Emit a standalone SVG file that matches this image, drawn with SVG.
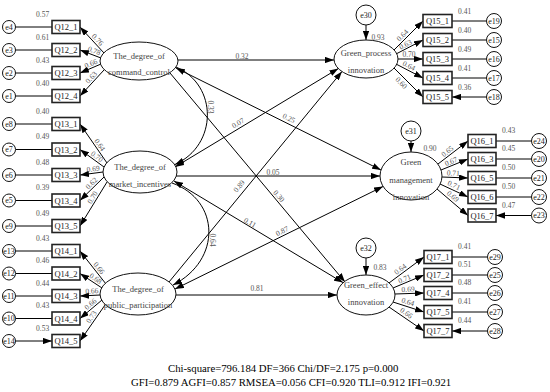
<svg xmlns="http://www.w3.org/2000/svg" width="550" height="392" viewBox="0 0 550 392">
<defs>
<style>
text{font-family:"Liberation Serif","Times New Roman",serif;fill:#333}
.lab{font-size:7.5px;fill:#555;text-anchor:middle}
.vl{font-size:7.5px;fill:#555}
.it{font-size:8.5px;text-anchor:middle;fill:#222}
.lt{font-size:8.5px;text-anchor:middle;fill:#444}
.et{font-size:8px;text-anchor:middle;fill:#222}
.box{fill:#fff;stroke:#222;stroke-width:1.6}
.ell{fill:#fff;stroke:#111;stroke-width:1}
.err{fill:#fff;stroke:#111;stroke-width:1}
.c{stroke:#000;stroke-width:1;fill:none}
.a{marker-end:url(#ah)}
.b{marker-start:url(#ah);marker-end:url(#ah)}
.fit{font-size:10.75px;fill:#000}
</style>
<marker id="ah" viewBox="0 0 10 7" refX="10" refY="3.5" markerWidth="9" markerHeight="6.3" markerUnits="userSpaceOnUse" orient="auto-start-reverse"><path d="M0,0 L10,3.5 L0,7 z" fill="#000"/></marker>
</defs>
<rect width="550" height="392" fill="#fff"/>

<g id="connectors">
<!-- error to items left -->
<path class="c a" d="M15.5,27H52M15.5,50H52M15.5,73H52M15.5,96H52M15.5,124H52M15.5,149.5H52M15.5,175H52M15.5,200.5H52M15.5,226H52M15.5,251H52M15.5,273.5H52M15.5,296H52M15.5,318.5H52M15.5,341H52"/>
<!-- loadings left -->
<path class="c a" d="M104,53L80,27"/>
<path class="c a" d="M101,58L80,50"/>
<path class="c a" d="M101,64L80,73"/>
<path class="c a" d="M104,70L80,96"/>
<path class="c a" d="M107,163L80,124"/>
<path class="c a" d="M104,167L80,149.5"/>
<path class="c a" d="M103,172L80,175"/>
<path class="c a" d="M104,177L80,200.5"/>
<path class="c a" d="M107,182L80,226"/>
<path class="c a" d="M106,284L80,251"/>
<path class="c a" d="M102,288L80,273.5"/>
<path class="c a" d="M100,295L80,296"/>
<path class="c a" d="M102,300L80,318.5"/>
<path class="c a" d="M105,305L80,341"/>
<!-- structural -->
<path class="c a" d="M178,60H334"/>
<path class="c b" d="M176,68L381,170"/>
<path class="c a" d="M170,73L345,282"/>
<path class="c a" d="M176,67C218,85 218,145 175,164.5"/>
<path class="c b" d="M175,167L338.4,68.5"/>
<path class="c a" d="M176,176H380"/>
<path class="c b" d="M174,181L343,282.6"/>
<path class="c a" d="M172,183C220,200 222,260 173,285"/>
<path class="c a" d="M169,282L342,71.5"/>
<path class="c b" d="M175,289L383,186.5"/>
<path class="c a" d="M176,295H337"/>
<!-- residuals of endogenous -->
<path class="c a" d="M366,25V40"/>
<path class="c a" d="M411,141V152"/>
<path class="c a" d="M366,258V275"/>
<!-- loadings right -->
<path class="c a" d="M394,50L423,21"/>
<path class="c a" d="M396,54L423,40"/>
<path class="c a" d="M398,59L423,59"/>
<path class="c a" d="M396,64L423,78"/>
<path class="c a" d="M394,68L423,97"/>
<path class="c a" d="M438,164L468,141"/>
<path class="c a" d="M441,170L468,159"/>
<path class="c a" d="M442,177L468,178"/>
<path class="c a" d="M440,184L468,197"/>
<path class="c a" d="M437,189L468,215.5"/>
<path class="c a" d="M389,283L424,257"/>
<path class="c a" d="M393,288L424,275"/>
<path class="c a" d="M395,294L424,293"/>
<path class="c a" d="M393,302L424,312"/>
<path class="c a" d="M389,307L424,331"/>
<!-- errors to items right -->
<path class="c a" d="M486.5,21H452M486.5,40H452M486.5,59H452M486.5,78H452M486.5,97H452"/>
<path class="c a" d="M531.5,141H496M531.5,159H496M531.5,178H496M531.5,197H496M531.5,215.5H496"/>
<path class="c a" d="M487.5,257H452M487.5,275H452M487.5,293H452M487.5,312H452M487.5,331H452"/>
</g>

<!-- latent nodes -->
<g id="command_control"><ellipse class="ell" cx="139" cy="61" rx="39" ry="19"/><text class="lt" x="139" y="58.5">The_degree_of</text><text class="lt" x="139" y="75">command_control</text></g>
<g id="market_incentives"><ellipse class="ell" cx="140" cy="172" rx="37" ry="21"/><text class="lt" x="140" y="170">The_degree_of</text><text class="lt" x="140" y="187">market_incentives</text></g>
<g id="public_participation"><ellipse class="ell" cx="138" cy="294" rx="38" ry="21"/><text class="lt" x="138" y="292">The_degree_of</text><text class="lt" x="138" y="308">public_participation</text></g>
<g id="green_process"><ellipse class="ell" cx="366" cy="59" rx="32" ry="19"/><text class="lt" x="366" y="56">Green_process</text><text class="lt" x="366" y="73">innovation</text></g>
<g id="green_management"><ellipse class="ell" cx="411" cy="176" rx="31" ry="24"/><text class="lt" x="411" y="165">Green</text><text class="lt" x="411" y="183">management</text><text class="lt" x="411" y="200">innovation</text></g>
<g id="green_effect"><ellipse class="ell" cx="366" cy="295" rx="29" ry="20"/><text class="lt" x="366" y="288">Green_effect</text><text class="lt" x="366" y="304.5">innovation</text></g>

<!-- residual nodes of endogenous latents -->
<g id="e30"><circle class="err" cx="366" cy="15" r="10"/><text class="et" x="366" y="18">e30</text></g>
<g id="e31"><circle class="err" cx="411" cy="131" r="10"/><text class="et" x="411" y="134">e31</text></g>
<g id="e32"><circle class="err" cx="366" cy="248" r="10"/><text class="et" x="366" y="251">e32</text></g>

<!-- left items -->
<g id="Q12_1"><rect class="box" x="52" y="20.5" width="28" height="13"/><text class="it" x="66" y="30">Q12_1</text></g>
<g id="Q12_2"><rect class="box" x="52" y="43.5" width="28" height="13"/><text class="it" x="66" y="53">Q12_2</text></g>
<g id="Q12_3"><rect class="box" x="52" y="66.5" width="28" height="13"/><text class="it" x="66" y="76">Q12_3</text></g>
<g id="Q12_4"><rect class="box" x="52" y="89.5" width="28" height="13"/><text class="it" x="66" y="99">Q12_4</text></g>
<g id="Q13_1"><rect class="box" x="52" y="117.5" width="28" height="13"/><text class="it" x="66" y="127">Q13_1</text></g>
<g id="Q13_2"><rect class="box" x="52" y="143" width="28" height="13"/><text class="it" x="66" y="152.5">Q13_2</text></g>
<g id="Q13_3"><rect class="box" x="52" y="168.5" width="28" height="13"/><text class="it" x="66" y="178">Q13_3</text></g>
<g id="Q13_4"><rect class="box" x="52" y="194" width="28" height="13"/><text class="it" x="66" y="203.5">Q13_4</text></g>
<g id="Q13_5"><rect class="box" x="52" y="219.5" width="28" height="13"/><text class="it" x="66" y="229">Q13_5</text></g>
<g id="Q14_1"><rect class="box" x="52" y="244.5" width="28" height="13"/><text class="it" x="66" y="254">Q14_1</text></g>
<g id="Q14_2"><rect class="box" x="52" y="267" width="28" height="13"/><text class="it" x="66" y="276.5">Q14_2</text></g>
<g id="Q14_3"><rect class="box" x="52" y="289.5" width="28" height="13"/><text class="it" x="66" y="299">Q14_3</text></g>
<g id="Q14_4"><rect class="box" x="52" y="312" width="28" height="13"/><text class="it" x="66" y="321.5">Q14_4</text></g>
<g id="Q14_5"><rect class="box" x="52" y="334.5" width="28" height="13"/><text class="it" x="66" y="344">Q14_5</text></g>

<!-- left error nodes -->
<g id="e4"><circle class="err" cx="9" cy="27" r="6.5"/><text class="et" x="9" y="29.8">e4</text></g>
<g id="e3"><circle class="err" cx="9" cy="50" r="6.5"/><text class="et" x="9" y="52.8">e3</text></g>
<g id="e2"><circle class="err" cx="9" cy="73" r="6.5"/><text class="et" x="9" y="75.8">e2</text></g>
<g id="e1"><circle class="err" cx="9" cy="96" r="6.5"/><text class="et" x="9" y="98.8">e1</text></g>
<g id="e8"><circle class="err" cx="9" cy="124" r="6.5"/><text class="et" x="9" y="126.8">e8</text></g>
<g id="e7"><circle class="err" cx="9" cy="149.5" r="6.5"/><text class="et" x="9" y="152.3">e7</text></g>
<g id="e6"><circle class="err" cx="9" cy="175" r="6.5"/><text class="et" x="9" y="177.8">e6</text></g>
<g id="e5"><circle class="err" cx="9" cy="200.5" r="6.5"/><text class="et" x="9" y="203.3">e5</text></g>
<g id="e9"><circle class="err" cx="9" cy="226" r="6.5"/><text class="et" x="9" y="228.8">e9</text></g>
<g id="e13"><circle class="err" cx="9" cy="251" r="6.5"/><text class="et" x="9" y="253.8">e13</text></g>
<g id="e12"><circle class="err" cx="9" cy="273.5" r="6.5"/><text class="et" x="9" y="276.3">e12</text></g>
<g id="e11"><circle class="err" cx="9" cy="296" r="6.5"/><text class="et" x="9" y="298.8">e11</text></g>
<g id="e10"><circle class="err" cx="9" cy="318.5" r="6.5"/><text class="et" x="9" y="321.3">e10</text></g>
<g id="e14"><circle class="err" cx="9" cy="341" r="6.5"/><text class="et" x="9" y="343.8">e14</text></g>

<!-- right items -->
<g id="Q15_1"><rect class="box" x="423" y="14.5" width="29" height="13"/><text class="it" x="437.5" y="24">Q15_1</text></g>
<g id="Q15_2"><rect class="box" x="423" y="33.5" width="29" height="13"/><text class="it" x="437.5" y="43">Q15_2</text></g>
<g id="Q15_3"><rect class="box" x="423" y="52.5" width="29" height="13"/><text class="it" x="437.5" y="62">Q15_3</text></g>
<g id="Q15_4"><rect class="box" x="423" y="71.5" width="29" height="13"/><text class="it" x="437.5" y="81">Q15_4</text></g>
<g id="Q15_5"><rect class="box" x="423" y="90.5" width="29" height="13"/><text class="it" x="437.5" y="100">Q15_5</text></g>
<g id="Q16_1"><rect class="box" x="468" y="134.5" width="28" height="13"/><text class="it" x="482" y="144">Q16_1</text></g>
<g id="Q16_3"><rect class="box" x="468" y="152.5" width="28" height="13"/><text class="it" x="482" y="162">Q16_3</text></g>
<g id="Q16_5"><rect class="box" x="468" y="171.5" width="28" height="13"/><text class="it" x="482" y="181">Q16_5</text></g>
<g id="Q16_6"><rect class="box" x="468" y="190.5" width="28" height="13"/><text class="it" x="482" y="200">Q16_6</text></g>
<g id="Q16_7"><rect class="box" x="468" y="209" width="28" height="13"/><text class="it" x="482" y="218.5">Q16_7</text></g>
<g id="Q17_1"><rect class="box" x="424" y="250.5" width="28" height="13"/><text class="it" x="438" y="260">Q17_1</text></g>
<g id="Q17_2"><rect class="box" x="424" y="268.5" width="28" height="13"/><text class="it" x="438" y="278">Q17_2</text></g>
<g id="Q17_4"><rect class="box" x="424" y="286.5" width="28" height="13"/><text class="it" x="438" y="296">Q17_4</text></g>
<g id="Q17_5"><rect class="box" x="424" y="305.5" width="28" height="13"/><text class="it" x="438" y="315">Q17_5</text></g>
<g id="Q17_7"><rect class="box" x="424" y="324.5" width="28" height="13"/><text class="it" x="438" y="334">Q17_7</text></g>

<!-- right error nodes -->
<g id="e19"><circle class="err" cx="494" cy="21" r="7.5"/><text class="et" x="494" y="23.8">e19</text></g>
<g id="e15"><circle class="err" cx="494" cy="40" r="7.5"/><text class="et" x="494" y="42.8">e15</text></g>
<g id="e16"><circle class="err" cx="494" cy="59" r="7.5"/><text class="et" x="494" y="61.8">e16</text></g>
<g id="e17"><circle class="err" cx="494" cy="78" r="7.5"/><text class="et" x="494" y="80.8">e17</text></g>
<g id="e18"><circle class="err" cx="494" cy="97" r="7.5"/><text class="et" x="494" y="99.8">e18</text></g>
<g id="e24"><circle class="err" cx="539" cy="141" r="7.5"/><text class="et" x="539" y="143.8">e24</text></g>
<g id="e20"><circle class="err" cx="539" cy="159" r="7.5"/><text class="et" x="539" y="161.8">e20</text></g>
<g id="e21"><circle class="err" cx="539" cy="178" r="7.5"/><text class="et" x="539" y="180.8">e21</text></g>
<g id="e22"><circle class="err" cx="539" cy="197" r="7.5"/><text class="et" x="539" y="199.8">e22</text></g>
<g id="e23"><circle class="err" cx="539" cy="215.5" r="7.5"/><text class="et" x="539" y="218.3">e23</text></g>
<g id="e29"><circle class="err" cx="495" cy="257" r="7.5"/><text class="et" x="495" y="259.8">e29</text></g>
<g id="e25"><circle class="err" cx="495" cy="275" r="7.5"/><text class="et" x="495" y="277.8">e25</text></g>
<g id="e26"><circle class="err" cx="495" cy="293" r="7.5"/><text class="et" x="495" y="295.8">e26</text></g>
<g id="e27"><circle class="err" cx="495" cy="312" r="7.5"/><text class="et" x="495" y="314.8">e27</text></g>
<g id="e28"><circle class="err" cx="495" cy="331" r="7.5"/><text class="et" x="495" y="333.8">e28</text></g>

<g id="connector-labels">
<!-- variances left -->
<text class="vl" x="36" y="16.5">0.57</text>
<text class="vl" x="36" y="39.5">0.61</text>
<text class="vl" x="36" y="62.5">0.43</text>
<text class="vl" x="36" y="85.5">0.40</text>
<text class="vl" x="36" y="113.5">0.40</text>
<text class="vl" x="36" y="139">0.49</text>
<text class="vl" x="36" y="164.5">0.48</text>
<text class="vl" x="36" y="190">0.39</text>
<text class="vl" x="36" y="215.5">0.49</text>
<text class="vl" x="36" y="240.5">0.43</text>
<text class="vl" x="36" y="263">0.46</text>
<text class="vl" x="36" y="285.5">0.44</text>
<text class="vl" x="36" y="308">0.43</text>
<text class="vl" x="36" y="330.5">0.53</text>
<!-- variances right -->
<text class="vl" x="458" y="14">0.41</text>
<text class="vl" x="458" y="33">0.40</text>
<text class="vl" x="458" y="52">0.49</text>
<text class="vl" x="458" y="71">0.41</text>
<text class="vl" x="458" y="90">0.36</text>
<text class="vl" x="502" y="133">0.43</text>
<text class="vl" x="502" y="151">0.45</text>
<text class="vl" x="502" y="170">0.50</text>
<text class="vl" x="502" y="189">0.50</text>
<text class="vl" x="502" y="207.5">0.47</text>
<text class="vl" x="458" y="249">0.41</text>
<text class="vl" x="458" y="267">0.51</text>
<text class="vl" x="458" y="285">0.48</text>
<text class="vl" x="458" y="304">0.41</text>
<text class="vl" x="458" y="323">0.44</text>
<!-- loadings left -->
<text class="lab" transform="translate(97.7,39.6) rotate(47.3)" y="2.6">0.76</text>
<text class="lab" transform="translate(94.2,50.6) rotate(20.9)" y="2.6">0.78</text>
<text class="lab" transform="translate(90.8,63.5) rotate(-23.2)" y="2.6">0.66</text>
<text class="lab" transform="translate(91.1,77.4) rotate(-47.3)" y="2.6">0.63</text>
<text class="lab" transform="translate(99.9,144.8) rotate(55.3)" y="2.6">0.64</text>
<text class="lab" transform="translate(97.1,156.4) rotate(36.1)" y="2.6">0.70</text>
<text class="lab" transform="translate(93.2,168.7) rotate(-7.4)" y="2.6">0.69</text>
<text class="lab" transform="translate(91.3,183.2) rotate(-44.4)" y="2.6">0.62</text>
<text class="lab" transform="translate(92.4,197.3) rotate(-58.5)" y="2.6">0.70</text>
<text class="lab" transform="translate(99.1,268) rotate(51.8)" y="2.6">0.66</text>
<text class="lab" transform="translate(95.7,278.4) rotate(33.4)" y="2.6">0.68</text>
<text class="lab" transform="translate(91.8,290.9) rotate(-2.9)" y="2.6">0.66</text>
<text class="lab" transform="translate(90.3,304) rotate(-40.1)" y="2.6">0.66</text>
<text class="lab" transform="translate(91.3,316.8) rotate(-55.2)" y="2.6">0.73</text>
<!-- loadings right -->
<text class="lab" transform="translate(402.4,35.2) rotate(-45)" y="2.6">0.64</text>
<text class="lab" transform="translate(405.5,44.4) rotate(-27.4)" y="2.6">0.63</text>
<text class="lab" transform="translate(409,54.5)" y="2.6">0.70</text>
<text class="lab" transform="translate(409,65.6) rotate(27.4)" y="2.6">0.64</text>
<text class="lab" transform="translate(401.4,82.8) rotate(45)" y="2.6">0.60</text>
<text class="lab" transform="translate(447.3,151.2) rotate(-37.5)" y="2.6">0.65</text>
<text class="lab" transform="translate(451,161.4) rotate(-22.2)" y="2.6">0.67</text>
<text class="lab" transform="translate(453.4,172.9) rotate(2.2)" y="2.6">0.71</text>
<text class="lab" transform="translate(454,185.1) rotate(24.9)" y="2.6">0.71</text>
<text class="lab" transform="translate(453,196.2) rotate(40.5)" y="2.6">0.69</text>
<text class="lab" transform="translate(400.3,269) rotate(-36.6)" y="2.6">0.64</text>
<text class="lab" transform="translate(404.5,278.7) rotate(-22.8)" y="2.6">0.71</text>
<text class="lab" transform="translate(408,289.1) rotate(-2)" y="2.6">0.69</text>
<text class="lab" transform="translate(408,301.7) rotate(17.9)" y="2.6">0.64</text>
<text class="lab" transform="translate(406.5,312.9) rotate(34.4)" y="2.6">0.66</text>
<!-- structural -->
<text class="lab" transform="translate(242,56)" y="2.6">0.32</text>
<text class="lab" transform="translate(289,118) rotate(26.5)" y="2.6">0.25</text>
<text class="lab" transform="translate(279,196) rotate(50.1)" y="2.6">0.30</text>
<text class="lab" transform="translate(211,107) rotate(90)" y="2.6">0.33</text>
<text class="lab" transform="translate(238,123) rotate(-31.1)" y="2.6">0.07</text>
<text class="lab" transform="translate(273,172)" y="2.6">0.05</text>
<text class="lab" transform="translate(250,222.5) rotate(31)" y="2.6">0.11</text>
<text class="lab" transform="translate(213,240) rotate(90)" y="2.6">0.64</text>
<text class="lab" transform="translate(239,186) rotate(-50.6)" y="2.6">0.89</text>
<text class="lab" transform="translate(282,231) rotate(-26.2)" y="2.6">0.87</text>
<text class="lab" transform="translate(257,288)" y="2.6">0.81</text>
<text class="lab" transform="translate(378,37.5)" y="2.6">0.93</text>
<text class="lab" transform="translate(430,148.5)" y="2.6">0.90</text>
<text class="lab" transform="translate(380,267.5)" y="2.6">0.83</text>
</g>

<g id="fit-indices">
<text class="fit" x="168" y="372">Chi-square=796.184 DF=366 Chi/DF=2.175 p=0.000</text>
<text class="fit" x="131" y="386">GFI=0.879 AGFI=0.857 RMSEA=0.056 CFI=0.920 TLI=0.912 IFI=0.921</text>
</g>
</svg>
